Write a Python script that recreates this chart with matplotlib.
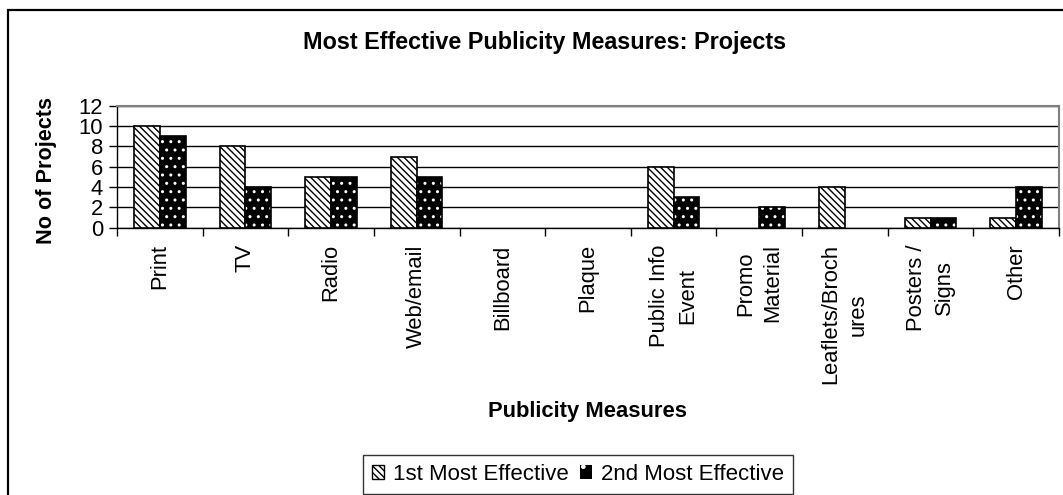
import matplotlib
matplotlib.use("Agg")
import matplotlib.pyplot as plt
from matplotlib.patches import Patch, Rectangle
import numpy as np

# Chart data
categories = ["Print", "TV", "Radio", "Web/email", "Billboard", "Plaque",
              "Public Info\nEvent", "Promo\nMaterial", "Leaflets/Broch\nures",
              "Posters /\nSigns", "Other"]
first_effective = [10, 8, 5, 7, 0, 0, 6, 0, 4, 1, 1]
second_effective = [9, 4, 5, 5, 0, 0, 3, 2, 0, 1, 4]
series_names = ["1st Most Effective", "2nd Most Effective"]
y_ticks = [0, 2, 4, 6, 8, 10, 12]

plt.rcParams["font.family"] = ["Liberation Sans", "DejaVu Sans"]
plt.rcParams["hatch.linewidth"] = 1.0

W, H = 1063, 495
fig = plt.figure(figsize=(W / 100, H / 100), dpi=100)
fig.patch.set_facecolor("white")

# outer chart frame
fig.add_artist(Rectangle((8 / W, -0.1), 1.2, 1 - 10 / H + 0.1,
                         transform=fig.transFigure, fill=False,
                         edgecolor="black", linewidth=1.6))

left, right, top, bottom = 117, 1059, 105.7, 227.7
ax = fig.add_axes([left / W, 1 - bottom / H, (right - left) / W, (bottom - top) / H])

x = np.arange(len(categories))
bw = 0.3
stripe = "\\" * 5
dots = ".."


def edge_widths(values, lw):
    # empty categories get no outline
    return [lw if v else 0 for v in values]


ax.bar(x - bw / 2, first_effective, bw, facecolor="white", edgecolor="black",
       hatch=stripe, linewidth=edge_widths(first_effective, 1.2), zorder=3)
ax.bar(x + bw / 2, second_effective, bw, facecolor="black", edgecolor="white",
       hatch=dots, linewidth=0, zorder=3)
ax.bar(x + bw / 2, second_effective, bw, fill=False, edgecolor="black",
       linewidth=edge_widths(second_effective, 1.2), zorder=4)

ax.set_xlim(-0.5, len(categories) - 0.5)
ax.set_ylim(0, 12)
ax.set_yticks(y_ticks)
ax.set_yticklabels([str(v) for v in y_ticks], fontsize=15.8)
ax.yaxis.grid(True, color="black", linewidth=1.0)
ax.set_axisbelow(True)

ax.set_xticks(x)
ax.set_xticklabels(categories, rotation=90, fontsize=15.8, va="top",
                   ha="center", multialignment="center", linespacing=1.4)
ax.set_xticks(np.arange(-0.5, len(categories)), minor=True)
ax.tick_params(axis="x", which="major", length=0, pad=12)
ax.tick_params(axis="x", which="minor", length=6, width=1, color="black")
ax.tick_params(axis="y", length=6, width=1, pad=4, color="black")

for s in ("top", "right"):
    ax.spines[s].set_color("#808080")
    ax.spines[s].set_linewidth(1.5)
for s in ("left", "bottom"):
    ax.spines[s].set_color("black")
    ax.spines[s].set_linewidth(1.0)

fig.text(545 / W, 1 - 42 / H, "Most Effective Publicity Measures: Projects",
         ha="center", va="center", fontsize=16.8, fontweight="bold")
fig.text(588 / W, 1 - 411 / H, "Publicity Measures",
         ha="center", va="center", fontsize=15.8, fontweight="bold")
fig.text(47 / W, 1 - 170 / H, "No of Projects", rotation=90,
         ha="center", va="center", fontsize=15.6, fontweight="bold")

handles = [Patch(facecolor="white", edgecolor="black", hatch=stripe, linewidth=1),
           Patch(facecolor="black", edgecolor="white", hatch=".", linewidth=0)]
leg = fig.legend(handles, series_names, loc="upper left",
                 bbox_to_anchor=(363 / W, 1 - 455 / H), ncol=2, fontsize=16,
                 frameon=True, fancybox=False, handlelength=0.55,
                 handleheight=0.55, handletextpad=0.4, columnspacing=0.5,
                 borderpad=0.4, borderaxespad=0)
leg.get_frame().set_edgecolor("black")
leg.get_frame().set_linewidth(1.0)

fig.savefig("out.png", dpi=100, facecolor="white")
